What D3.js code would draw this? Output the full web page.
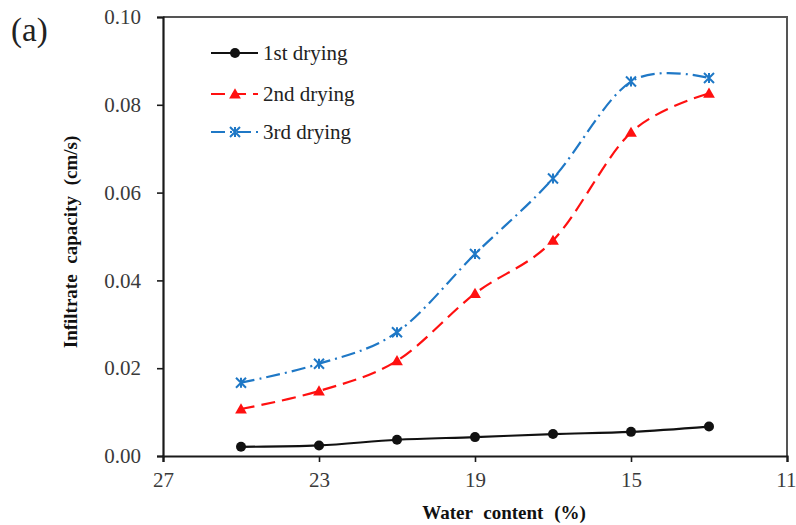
<!DOCTYPE html>
<html>
<head>
<meta charset="utf-8">
<script src="https://cdn.jsdelivr.net/npm/d3@7"></script>
<style>
  html, body { margin: 0; padding: 0; background: #fff; }
  svg { display: block; }
  text { font-family: "Liberation Serif", "Times New Roman", serif; }
</style>
</head>
<body>
<svg id="chart" width="796" height="525"></svg>
<script>
// Water content (%) at each measurement, and infiltration capacity (cm/s)
const waterContent = [25, 23, 21, 19, 17, 15, 13];
const drying1 = [0.0021, 0.0024, 0.0037, 0.0043, 0.0050, 0.0055, 0.0067];
const drying2 = [0.0107, 0.0148, 0.0217, 0.0370, 0.0491, 0.0737, 0.0826];
const drying3 = [0.0167, 0.0210, 0.0282, 0.0460, 0.0632, 0.0853, 0.0861];
const seriesNames = ["1st drying", "2nd drying", "3rd drying"];
const xTicks = [27, 23, 19, 15, 11];
const yTicks = [0, 0.02, 0.04, 0.06, 0.08, 0.10];

const svg = d3.select("#chart");
const margin = { left: 163, right: 9, top: 17, bottom: 69 };
const W = 796, H = 525;

const x = d3.scaleLinear().domain([27, 11]).range([margin.left, W - margin.right]);
const y = d3.scaleLinear().domain([0, 0.10]).range([H - margin.bottom, margin.top]);

// frame: grey top/right border
svg.append("path")
  .attr("d", `M${x(27)},${y(0.10)}H${x(11)}V${y(0)}`)
  .attr("fill", "none").attr("stroke", "#555").attr("stroke-width", 2);

// axes
const yAxis = d3.axisLeft(y).tickValues(yTicks).tickFormat(d3.format(".2f")).tickSize(6).tickPadding(16);
const xAxis = d3.axisBottom(x).tickValues(xTicks).tickFormat(d3.format("d")).tickSize(6).tickPadding(10);

const gy = svg.append("g").attr("transform", `translate(${x(27)},0)`).call(yAxis);
const gx = svg.append("g").attr("transform", `translate(0,${y(0)})`).call(xAxis);
[gx, gy].forEach(g => {
  g.select(".domain").attr("stroke", "#1a1a1a").attr("stroke-width", 2.2);
  g.selectAll(".tick line").attr("stroke", "#1a1a1a").attr("stroke-width", 1.6);
  g.selectAll(".tick text").attr("fill", "#3a3a3a").style("font-size", "21px")
    .style("font-family", "'Liberation Serif', serif");
});
// keep the last x label inside the page edge
gx.selectAll(".tick text").filter(d => d === 11).attr("text-anchor", "end").attr("dx", 9);

// axis titles
svg.append("text")
  .attr("transform", `translate(77,${242}) rotate(-90)`)
  .attr("text-anchor", "middle")
  .style("font-size", "19px").style("font-weight", "bold").style("word-spacing", "6px")
  .attr("fill", "#111")
  .text("Infiltrate capacity (cm/s)");

svg.append("text")
  .attr("x", 504).attr("y", 519)
  .attr("text-anchor", "middle")
  .style("font-size", "19px").style("font-weight", "bold").style("word-spacing", "6px")
  .attr("fill", "#111")
  .text("Water content (%)");

svg.append("text")
  .attr("x", 11).attr("y", 41)
  .style("font-size", "33px").attr("fill", "#222")
  .text("(a)");

// series
const series = [
  { name: seriesNames[0], values: drying1, color: "#111", dash: null, marker: "circle" },
  { name: seriesNames[1], values: drying2, color: "#ff1010", dash: "14,7", marker: "triangle" },
  { name: seriesNames[2], values: drying3, color: "#1f78c6", dash: "14,5,2,5", marker: "star" }
];

const line = d3.line()
  .x((d, i) => x(waterContent[i]))
  .y(d => y(d))
  .curve(d3.curveCardinal.tension(0));

function drawMarker(g, type, cx, cy, color) {
  if (type === "circle") {
    g.append("circle").attr("cx", cx).attr("cy", cy).attr("r", 5).attr("fill", color);
  } else if (type === "triangle") {
    g.append("path")
      .attr("d", d3.symbol().type(d3.symbolTriangle).size(60)())
      .attr("transform", `translate(${cx},${cy + 1})`)
      .attr("fill", color);
  } else {
    const s = 5;
    g.append("path")
      .attr("d", `M${cx - s},${cy - s}L${cx + s},${cy + s}M${cx - s},${cy + s}L${cx + s},${cy - s}M${cx},${cy - s}V${cy + s}`)
      .attr("stroke", color).attr("stroke-width", 2).attr("fill", "none");
  }
}

series.forEach(s => {
  svg.append("path")
    .attr("d", line(s.values))
    .attr("fill", "none")
    .attr("stroke", s.color)
    .attr("stroke-width", 2.2)
    .attr("stroke-dasharray", s.dash);
  const g = svg.append("g");
  s.values.forEach((v, i) => drawMarker(g, s.marker, x(waterContent[i]), y(v), s.color));
});

// legend
const legendY = [53, 94, 132];
series.forEach((s, i) => {
  const ly = legendY[i];
  svg.append("line")
    .attr("x1", 211).attr("x2", 258).attr("y1", ly).attr("y2", ly)
    .attr("stroke", s.color).attr("stroke-width", 2.2)
    .attr("stroke-dasharray", s.dash);
  drawMarker(svg.append("g"), s.marker, 235, ly, s.color);
  svg.append("text")
    .attr("x", 263).attr("y", ly + 7)
    .style("font-size", "21px").attr("fill", "#222")
    .text(s.name);
});
</script>
</body>
</html>
